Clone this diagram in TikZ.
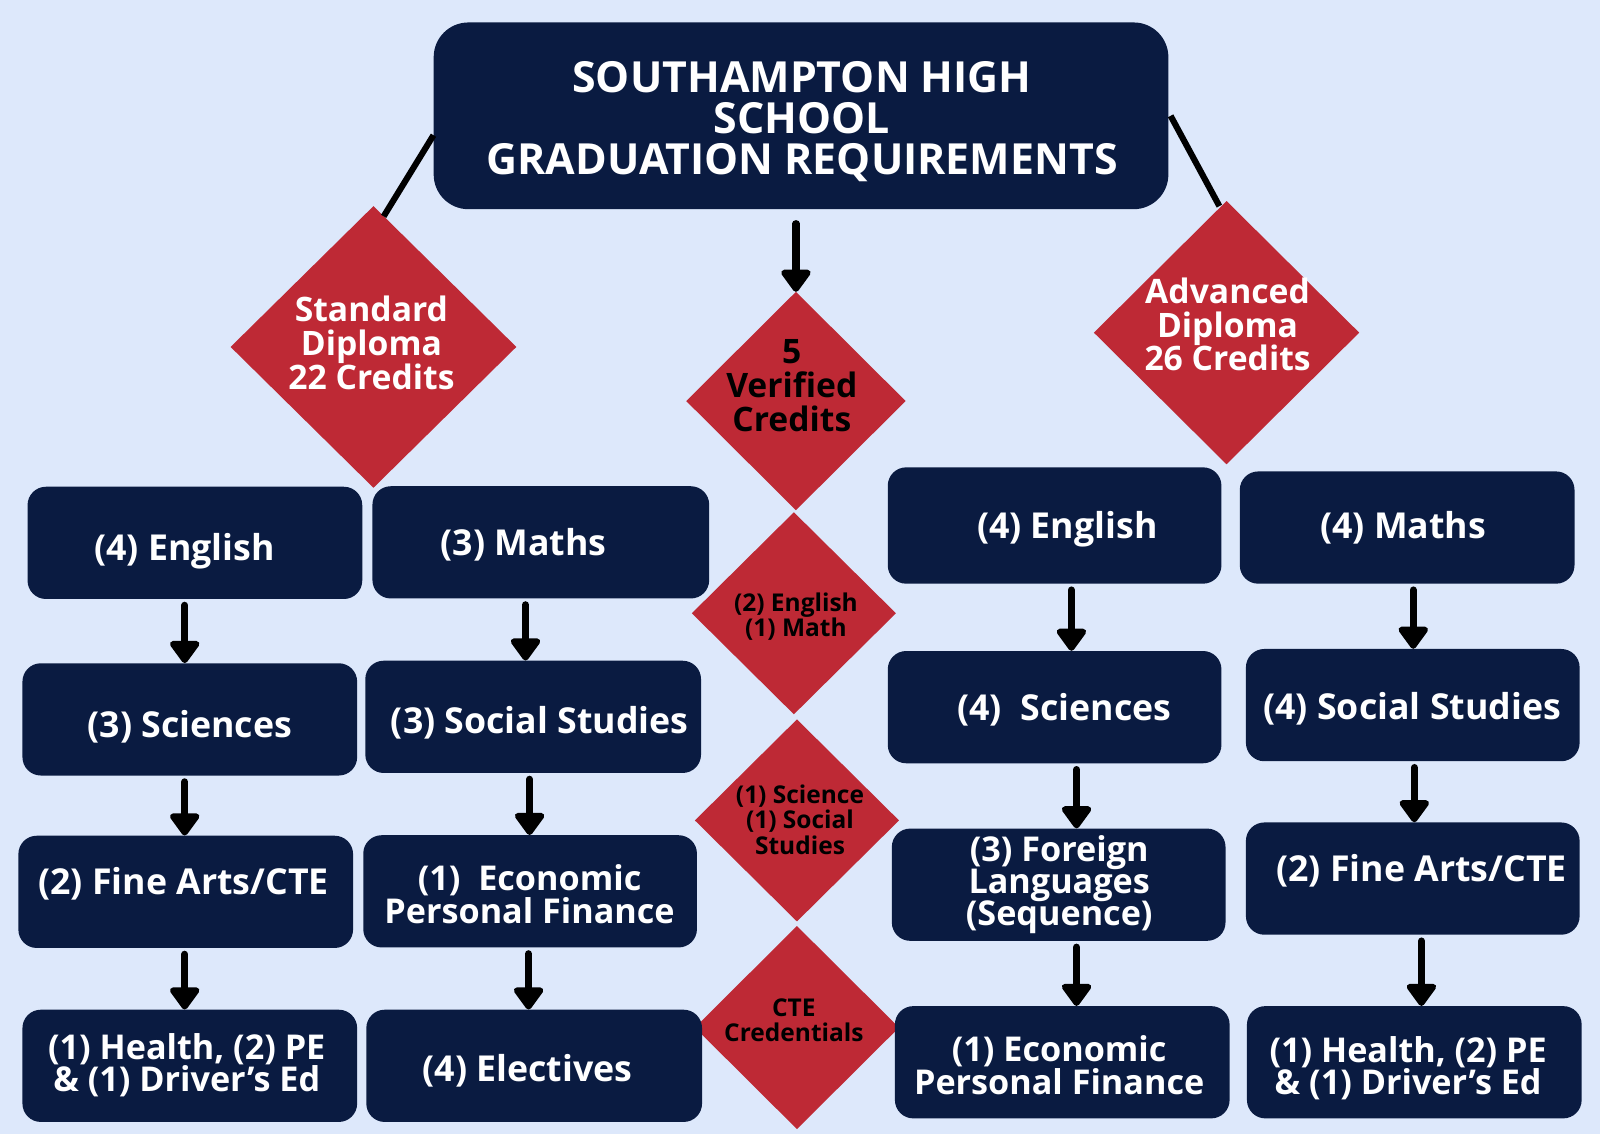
\documentclass[tikz,border=0pt]{standalone}
\usepackage{fontspec}
\setmainfont{Open Sans}
\usetikzlibrary{arrows.meta}
\definecolor{bgc}{HTML}{DDE8FB}
\definecolor{navy}{HTML}{0A1B41}
\definecolor{redc}{HTML}{BE2935}
\newcommand\bigfont{\bfseries\fontsize{42}{40}\selectfont\lineskiplimit=-100pt\relax}
\newcommand\boxfont{\bfseries\fontsize{35}{32}\selectfont\lineskiplimit=-100pt\relax}
\newcommand\mboxfont{\bfseries\fontsize{33.5}{32}\selectfont\lineskiplimit=-100pt\relax}
\newcommand\flfont{\bfseries\fontsize{33.5}{31}\selectfont\lineskiplimit=-100pt\relax}
\newcommand\dfont{\bfseries\fontsize{33}{33}\selectfont\lineskiplimit=-100pt\relax}
\newcommand\sdfont{\bfseries\fontsize{24}{25}\selectfont\lineskiplimit=-100pt\relax}
\newcommand\mydiam[5]{\fill[redc] ({#2},{#3-#5}) -- ({#2+#4},{#3}) -- ({#2},{#3+#5}) -- ({#2-#4},{#3}) -- cycle;}
\tikzset{
  box/.style={fill=navy, rounded corners=18pt, minimum width=328pt, minimum height=110pt, inner sep=0pt},
  btext/.style={text=white, font=\boxfont, align=center, inner sep=0pt},
  mtext/.style={text=white, font=\mboxfont, align=center, inner sep=0pt},
  one/.style={text height=25pt, text depth=0pt},
  dtext/.style={font=\dfont, align=center, inner sep=0pt},
  sdtext/.style={font=\sdfont, align=center, inner sep=0pt, text=black},
  arr/.style={line width=7pt, line cap=round, -{Triangle[width=33pt,length=24pt,round]}, black},
  link/.style={line width=6pt, black}
}
\begin{document}
\begin{tikzpicture}[x=1pt,y=-1pt]
\fill[bgc] (0,0) rectangle (1568,1111);
\useasboundingbox (0,0) rectangle (1568,1111);

% title
\node[box, minimum width=720pt, minimum height=183pt, rounded corners=34pt] (title) at (785,113.5) {};
\node[btext, font=\bigfont] (titlet) at (786,119) {SOUTHAMPTON HIGH\\SCHOOL\\GRADUATION REQUIREMENTS};

% big diamonds
\mydiam{std}{366}{340}{140}{138}
\mydiam{ver}{780}{393}{107.5}{107}
\mydiam{adv}{1202}{326}{130}{129}
\node[dtext, text=white] (stdt) at (364,336) {Standard\\Diploma\\22 Credits};
\node[dtext, text=black] (vert) at (776,378) {5\\Verified\\Credits};
\node[dtext, text=white] (advt) at (1203,318) {Advanced\\Diploma\\26 Credits};
\coordinate (stdtop) at (376,212);
\coordinate (advtop) at (1195,202);
\coordinate (vertop) at (780,286);

% small diamonds
\mydiam{d1}{778}{601}{100}{99}
\mydiam{d2}{781}{804}{100}{99}
\mydiam{d3}{781}{1007}{100}{99.5}
\node[sdtext] (d1t) at (780,604.5) {(2) English\\(1) Math};
\node[sdtext] (d2t) at (784,803) {(1) Science\\(1) Social\\Studies};
\node[sdtext] (d3t) at (778,1000) {CTE\\Credentials};

% connectors from title
\draw[link] ([yshift=-19pt]title.west) -- (stdtop);
\draw[link] ([xshift=2pt]title.east) -- (advtop);
\draw[arr] ([xshift=-5pt,yshift=-14pt]title.south) -- (vertop);

% column 1
\node[box] (e1) at (191,532) {};
\node[box] (s1) at (186,705) {};
\node[box] (f1) at (182,874) {};
\node[box] (h1) at (186,1044.5) {};
\node[btext, one] (e1t) at (181,537) {(4) English};
\node[btext, one] (s1t) at (186,710) {(3) Sciences};
\node[btext, one] (f1t) at (180,864) {(2) Fine Arts/CTE};
\node[mtext] (h1t) at (183,1044) {(1) Health, (2) PE\\\& (1) Driver’s Ed};
% column 2
\node[box, minimum width=330pt] (m2) at (530,531.5) {};
\node[box, minimum width=329pt] (ss2) at (522.5,702.5) {};
\node[box, minimum width=327pt] (ec2) at (519.5,873.5) {};
\node[box, minimum width=329pt] (el2) at (523.5,1044.5) {};
\node[btext, one] (m2t) at (513,532) {(3) Maths};
\node[btext, one] (ss2t) at (529,706) {(3) Social Studies};
\node[mtext] (ec2t) at (519,876) {(1)\ \ Economic\\Personal Finance};
\node[btext, one] (el2t) at (517,1047) {(4) Electives};
% column 3
\node[box, minimum width=327pt, minimum height=114pt] (e3) at (1033.5,515) {};
\node[box, minimum width=327pt] (s3) at (1033.5,693) {};
\node[box, minimum width=327pt] (fl3) at (1037.5,867) {};
\node[box, minimum width=328pt] (ec3) at (1041,1041) {};
\node[btext, one] (e3t) at (1046,515) {(4) English};
\node[btext, one] (s3t) at (1043,694) {(4)\ \ Sciences};
\node[mtext, font=\flfont] (fl3t) at (1038,867) {(3) Foreign\\Languages\\(Sequence)};
\node[mtext] (ec3t) at (1038,1044) {(1) Economic\\Personal Finance};
% column 4
\node[box] (m4) at (1379,517) {};
\node[box, minimum width=327pt] (ss4) at (1384.5,691) {};
\node[box, minimum width=327pt] (f4) at (1384.5,861) {};
\node[box] (h4) at (1386,1041) {};
\node[btext, one] (m4t) at (1375,515) {(4) Maths};
\node[btext, one] (ss4t) at (1384,693) {(4) Social Studies};
\node[btext, one] (f4t) at (1393,851) {(2) Fine Arts/CTE};
\node[mtext] (h4t) at (1380,1047) {(1) Health, (2) PE\\\& (1) Driver’s Ed};

% arrows
\draw[arr] ([xshift=-10pt,yshift=-6pt]e1.south) -- ([xshift=-5pt]s1.north);
\draw[arr] ([xshift=-5pt,yshift=-6pt]s1.south) -- ([xshift=-1pt]f1.north);
\draw[arr] ([xshift=-1pt,yshift=-6pt]f1.south) -- ([xshift=-5pt]h1.north);
\draw[arr] ([xshift=-15pt,yshift=-6pt]m2.south) -- ([xshift=-7.5pt]ss2.north);
\draw[arr] ([xshift=-3.5pt,yshift=-6pt]ss2.south) -- ([xshift=-0.5pt]ec2.north);
\draw[arr] ([xshift=-1.5pt,yshift=-6pt]ec2.south) -- ([xshift=-5.5pt]el2.north);
\draw[arr] ([xshift=16.5pt,yshift=-6pt]e3.south) -- ([xshift=16.5pt]s3.north);
\draw[arr] ([xshift=21.5pt,yshift=-6pt]s3.south) -- ([xshift=17.5pt]fl3.north);
\draw[arr] ([xshift=17.5pt,yshift=-6pt]fl3.south) -- ([xshift=14pt]ec3.north);
\draw[arr] ([xshift=6pt,yshift=-6pt]m4.south) -- ([xshift=0.5pt]ss4.north);
\draw[arr] ([xshift=1.5pt,yshift=-6pt]ss4.south) -- ([xshift=1.5pt]f4.north);
\draw[arr] ([xshift=8.5pt,yshift=-6pt]f4.south) -- ([xshift=7pt]h4.north);
\end{tikzpicture}
\end{document}
